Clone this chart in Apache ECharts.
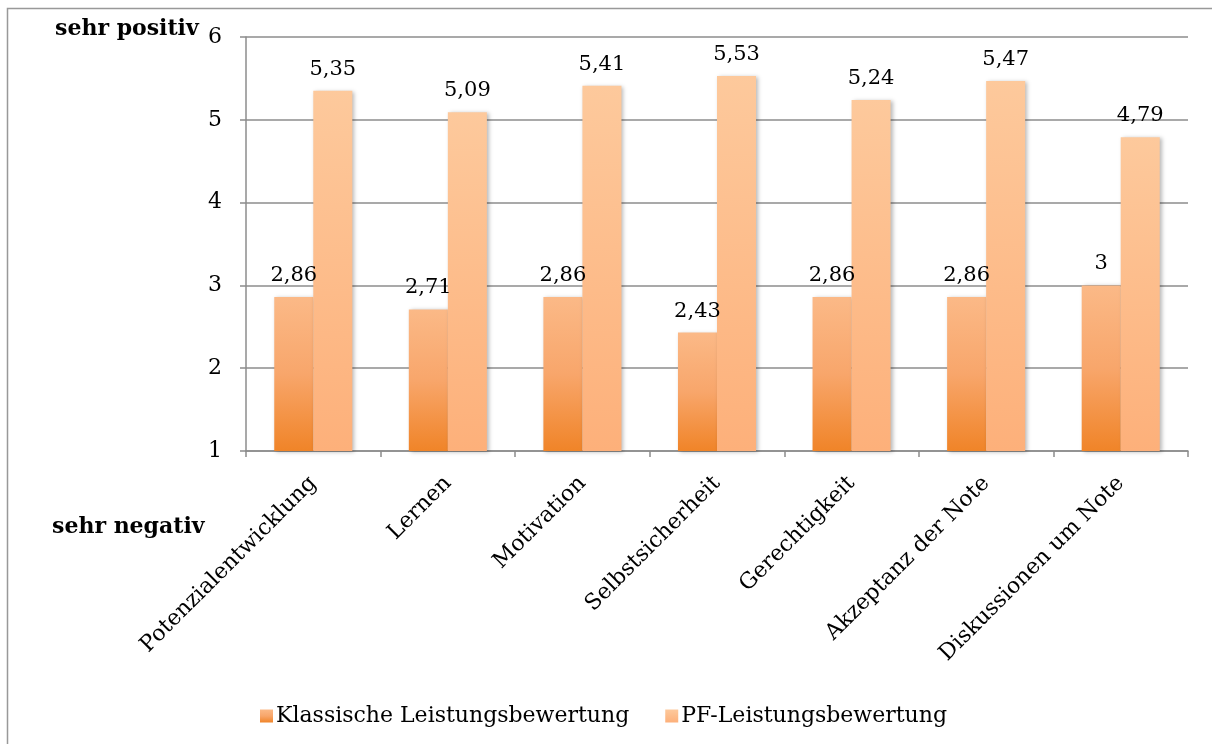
<!DOCTYPE html>
<html>
<head>
<meta charset="utf-8">
<script src="https://cdn.jsdelivr.net/npm/echarts@6/dist/echarts.min.js"></script>
<style>
  html, body { margin: 0; padding: 0; background: #fff; }
  #chart { width: 1212px; height: 744px; }
</style>
</head>
<body>
<div id="chart"></div>
<script>
const categories = ['Potenzialentwicklung', 'Lernen', 'Motivation', 'Selbstsicherheit', 'Gerechtigkeit', 'Akzeptanz der Note', 'Diskussionen um Note']
const klassisch = [2.86, 2.71, 2.86, 2.43, 2.86, 2.86, 3]
const pf = [5.35, 5.09, 5.41, 5.53, 5.24, 5.47, 4.79]
const seriesNames = ['Klassische Leistungsbewertung', 'PF-Leistungsbewertung']

const FONT = 'DejaVu Serif'
const fmt = v => String(v).replace('.', ',')

const chart = echarts.init(document.getElementById('chart'))

// Verlauf wie im Original (unten dunkler)
const gradKlassisch = new echarts.graphic.LinearGradient(0, 0, 0, 1, [
  { offset: 0, color: '#fbb987' },
  { offset: 0.5, color: '#f8a66b' },
  { offset: 1, color: '#f08428' }
])
const gradPf = new echarts.graphic.LinearGradient(0, 0, 0, 1, [
  { offset: 0, color: '#fdc99c' },
  { offset: 1, color: '#fdb07a' }
])

const barShadow = {
  shadowBlur: 4,
  shadowColor: 'rgba(0,0,0,0.28)',
  shadowOffsetX: 2,
  shadowOffsetY: 1
}

const labelStyle = {
  show: true,
  position: 'top',
  distance: 11,
  fontFamily: FONT,
  fontSize: 21,
  color: '#000',
  formatter: p => fmt(p.value)
}

const option = {
  animation: false,
  textStyle: { fontFamily: FONT },
  graphic: [
    {
      type: 'rect',
      shape: { x: 7.5, y: 8.5, width: 1300, height: 800 },
      style: { fill: 'none', stroke: '#999', lineWidth: 1.5 },
      silent: true
    },
    {
      type: 'text', left: 55, top: 18,
      style: { text: 'sehr positiv', font: 'bold 22px "DejaVu Serif"', fill: '#000' }
    },
    {
      type: 'text', left: 52, top: 516,
      style: { text: 'sehr negativ', font: 'bold 22px "DejaVu Serif"', fill: '#000' }
    }
  ],
  grid: { left: 246, right: 24, top: 37, bottom: 293, containLabel: false },
  legend: {
    top: 700,
    left: 255,
    itemWidth: 13,
    itemHeight: 13,
    itemGap: 36,
    icon: 'rect',
    textStyle: { fontFamily: FONT, fontSize: 22, color: '#000', padding: [0, 0, 0, -2] },
    data: seriesNames
  },
  xAxis: {
    type: 'category',
    data: categories,
    axisLine: { lineStyle: { color: '#8c8c8c', width: 1.5 } },
    axisTick: { show: true, length: 6, alignWithLabel: false, lineStyle: { color: '#8c8c8c', width: 1.5 } },
    axisLabel: {
      interval: 0,
      rotate: 45,
      margin: 29,
      fontFamily: FONT,
      fontSize: 22,
      color: '#000'
    }
  },
  yAxis: {
    type: 'value',
    min: 1,
    max: 6,
    interval: 1,
    axisLine: { show: true, lineStyle: { color: '#8c8c8c', width: 1.5 } },
    axisTick: { show: true, length: 6, lineStyle: { color: '#8c8c8c', width: 1.5 } },
    splitLine: { lineStyle: { color: '#8c8c8c', width: 1.5 } },
    axisLabel: {
      margin: 24,
      fontFamily: FONT,
      fontSize: 22,
      color: '#000'
    }
  },
  series: [
    {
      name: seriesNames[0],
      type: 'bar',
      data: klassisch,
      barGap: '0%',
      barCategoryGap: '42%',
      itemStyle: Object.assign({ color: gradKlassisch }, barShadow),
      label: labelStyle
    },
    {
      name: seriesNames[1],
      type: 'bar',
      data: pf,
      itemStyle: Object.assign({ color: gradPf }, barShadow),
      label: labelStyle
    }
  ]
}

chart.setOption(option)
</script>
</body>
</html>
